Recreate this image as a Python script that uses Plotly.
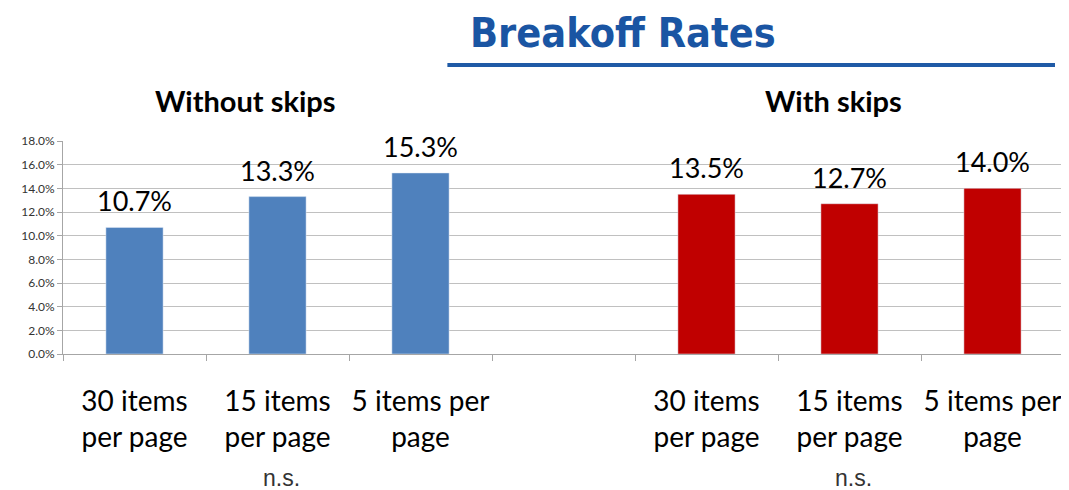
import plotly.graph_objects as go

# data
labels = ["30 items<br>per page", "15 items<br>per page", "5 items per<br>page"]
without_skips = [10.7, 13.3, 15.3]
with_skips = [13.5, 12.7, 14.0]
ns_flags = [False, True, False]

x_left = [0, 1, 2]
x_right = [4, 5, 6]

BLUE = "#4f81bd"
RED = "#c00000"
TXT = "Lato, Open Sans, sans-serif"

fig = go.Figure()
fig.add_trace(go.Bar(x=x_left, y=without_skips, marker_color=BLUE, name="Without skips"))
fig.add_trace(go.Bar(x=x_right, y=with_skips, marker_color=RED, name="With skips"))

# value labels above bars
for xs, ys in [(x_left, without_skips), (x_right, with_skips)]:
    for xv, yv in zip(xs, ys):
        fig.add_annotation(x=xv, y=yv, text=f"{yv:.1f}%", showarrow=False,
                           xanchor="center", yanchor="bottom", yshift=8,
                           font=dict(family=TXT, size=27, color="#000000"))

# n.s. markers
for xs in (x_left, x_right):
    for xv, flag in zip(xs, ns_flags):
        if flag:
            fig.add_annotation(x=xv, y=-0.582, yref="paper", text="n.s.", showarrow=False,
                               xanchor="center", yanchor="middle", xshift=4,
                               font=dict(family="Liberation Sans, Arial", size=23, color="#333333"))

# group headings
for xp, txt in [(0.182, "Without skips"), (0.770, "With skips")]:
    fig.add_annotation(x=xp, y=1.192, xref="paper", yref="paper", text=f"<b>{txt}</b>",
                       showarrow=False, xanchor="center", yanchor="middle",
                       font=dict(family=TXT, size=29, color="#000000"))

# title + underline
fig.add_annotation(x=0.559, y=1.507, xref="paper", yref="paper", text="<b>Breakoff Rates</b>",
                   showarrow=False, xanchor="center", yanchor="middle",
                   font=dict(family="DejaVu Sans Condensed, DejaVu Sans", size=41, color="#1a55a3"))
fig.add_shape(type="line", xref="paper", yref="paper", x0=0.384, x1=0.991, y0=1.357, y1=1.357,
              line=dict(color="#1f5aa6", width=4))

fig.update_xaxes(
    range=[-0.5, 6.5],
    automargin=False,
    tickvals=x_left + x_right,
    ticktext=labels + labels,
    ticks="",
    ticklabelstandoff=22,
    tickfont=dict(family=TXT, size=28, color="#000000"),
    showline=True, linecolor="#a6a6a6", linewidth=1,
    showgrid=False, zeroline=False,
    minor=dict(tickvals=[-0.5, 0.5, 1.5, 2.5, 3.5, 4.5, 5.5, 6.5], ticks="outside",
               ticklen=6, tickcolor="#a6a6a6", showgrid=False),
)
fig.update_yaxes(
    range=[0, 18], dtick=2, tickformat=".1f", ticksuffix="%",
    automargin=False,
    ticks="outside", ticklen=5, tickcolor="#a6a6a6",
    tickfont=dict(family=TXT, size=12, color="#333333"),
    showline=True, linecolor="#a6a6a6", linewidth=1,
    showgrid=True, gridcolor="#c0c0c0", gridwidth=1, zeroline=False,
)

# page body adds an 8px offset, so the figure is a bit smaller than the window
fig.update_layout(
    width=1061, height=482,
    margin=dict(l=55, r=5, t=133, b=136),
    bargap=0.6,
    showlegend=False,
    plot_bgcolor="white", paper_bgcolor="white",
)

fig.write_html("out.html")
